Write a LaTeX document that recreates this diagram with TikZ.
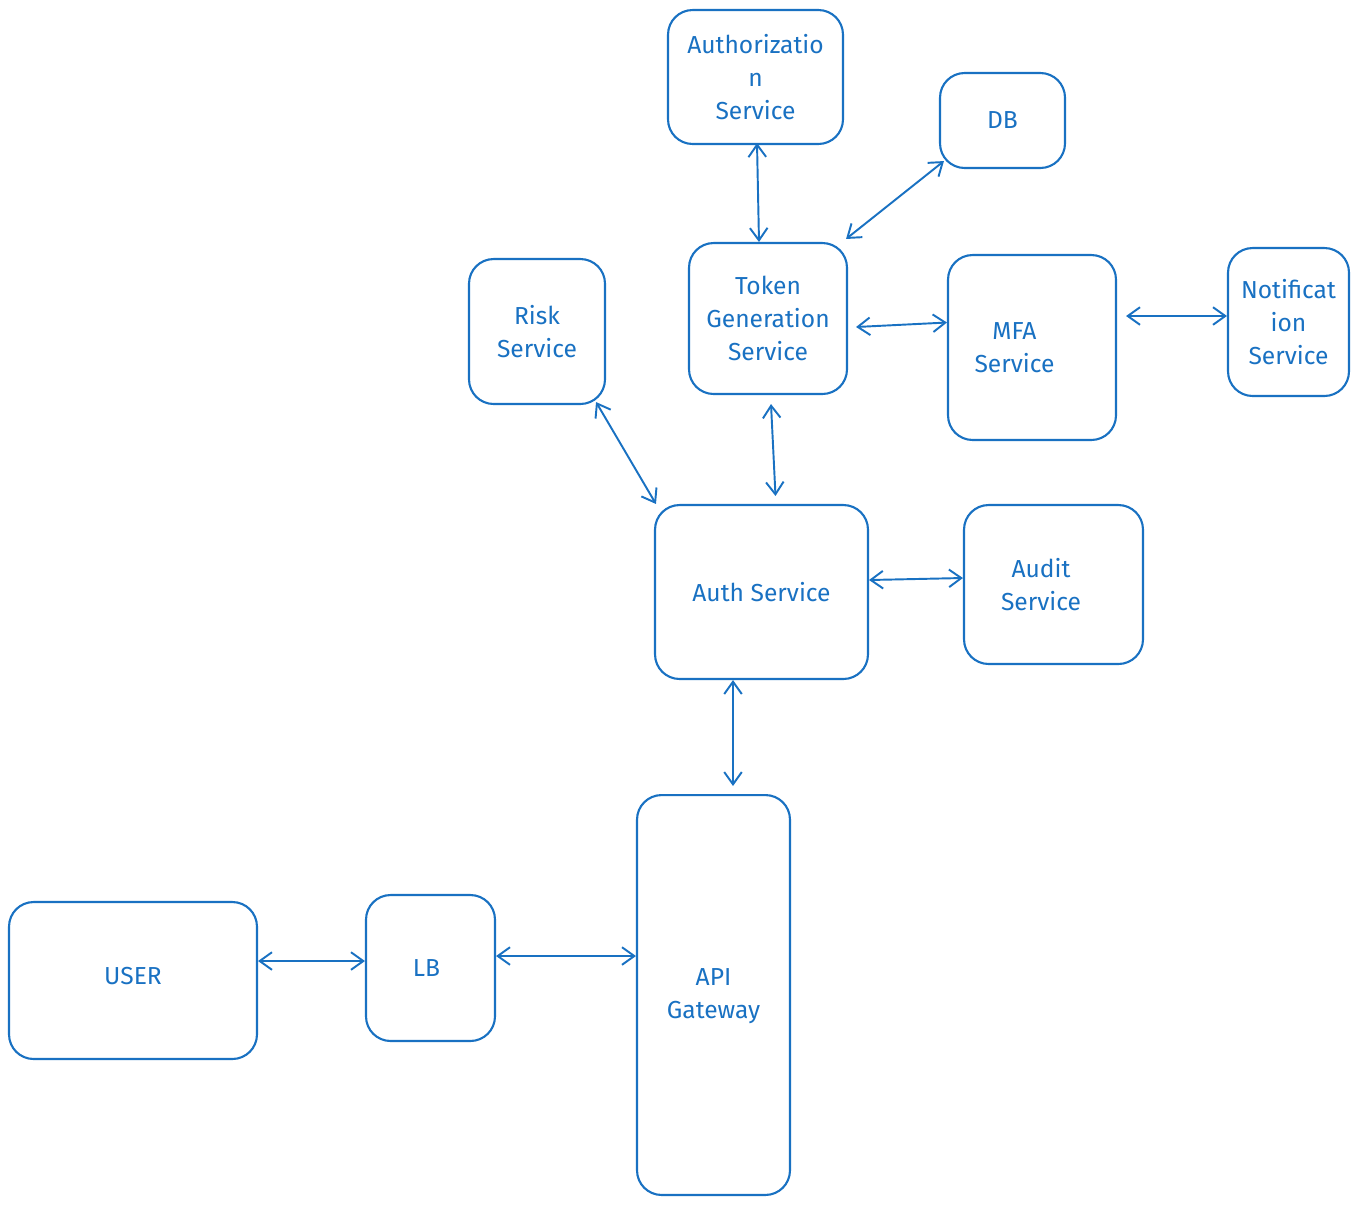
\documentclass[tikz,border=0pt]{standalone}
\usepackage{fontspec}
\setmainfont{Fira Sans}
\usetikzlibrary{arrows.meta}
\definecolor{ink}{HTML}{1971C2}
\begin{document}
\begin{tikzpicture}[x={(0.02cm,0)},y={(0,-0.02cm)},
  box/.style={draw=ink,line width=1.2pt,rounded corners=14pt,text=ink,align=center,inner sep=0pt,
    font=\fontsize{14}{19}\selectfont},
  link/.style={draw=ink,line width=1.1pt,{Straight Barb[length=7pt,width=10pt]}-{Straight Barb[length=7pt,width=10pt]}}]
\useasboundingbox (0,0) rectangle (1358,1205);
\node[box,minimum width=3.5cm,minimum height=2.68cm] (authz) at (755.5,77) {Authorizatio\\n\\Service};
\node[box,minimum width=2.5cm,minimum height=1.9cm] (db) at (1002.5,120.5) {DB};
\node[box,minimum width=3.16cm,minimum height=3.02cm] (token) at (768,318.5) {Token\\Generation\\Service};
\node[box,minimum width=2.72cm,minimum height=2.9cm] (risk) at (537,331.5) {Risk\\Service};
\node[box,minimum width=3.36cm,minimum height=3.7cm,text width=3.36cm] (mfa) at (1032,347.5) {\hspace*{-0.7cm}MFA\\\hspace*{-0.7cm}Service};
\node[box,minimum width=2.42cm,minimum height=2.96cm] (notif) at (1288.5,322) {Notificat\\ion\\Service};
\node[box,minimum width=4.26cm,minimum height=3.48cm] (auth) at (761.5,592) {Auth Service};
\node[box,minimum width=3.58cm,minimum height=3.18cm,text width=3.58cm] (audit) at (1053.5,584.5) {\hspace*{-0.5cm}Audit\\\hspace*{-0.5cm}Service};
\node[box,minimum width=4.96cm,minimum height=3.14cm] (user) at (133,980.5) {\raisebox{0.18cm}{USER}};
\node[box,minimum width=2.58cm,minimum height=2.92cm] (lb) at (430.5,968) {\hspace*{-0.16cm}\raisebox{-0.12cm}{LB}};
\node[box,minimum width=3.06cm,minimum height=8cm] (api) at (713.5,995) {\raisebox{0.3cm}{\begin{tabular}{@{}c@{}}API\\Gateway\end{tabular}}};

\draw[link] ([xshift=0.03cm,yshift=0.04cm]authz.south) -- ([xshift=-0.18cm]token.north);
\draw[link] ([xshift=-0.04cm,yshift=0.06cm]token.north east) -- ([xshift=0.1cm,yshift=0.16cm]db.south west);
\draw[link] ([xshift=0.16cm,yshift=-0.17cm]token.east) -- ([yshift=0.5cm]mfa.west);
\draw[link] ([xshift=0.18cm,yshift=0.63cm]mfa.east) -- ([yshift=0.12cm]notif.west);
\draw[link] ([xshift=0.06cm,yshift=-0.18cm]token.south) -- ([xshift=0.28cm,yshift=0.16cm]auth.north);
\draw[link] ([xshift=-0.2cm,yshift=0.06cm]risk.south east) -- ([xshift=0.04cm]auth.north west);
\draw[link] ([yshift=0.24cm]auth.east) -- ([yshift=0.13cm]audit.west);
\draw[link] ([xshift=-0.57cm]auth.south) -- ([xshift=0.39cm,yshift=0.16cm]api.north);
\draw[link] ([yshift=0.39cm]user.east) -- ([yshift=0.14cm]lb.west);
\draw[link] ([yshift=0.24cm]lb.east) -- ([yshift=0.78cm]api.west);
\end{tikzpicture}
\end{document}
